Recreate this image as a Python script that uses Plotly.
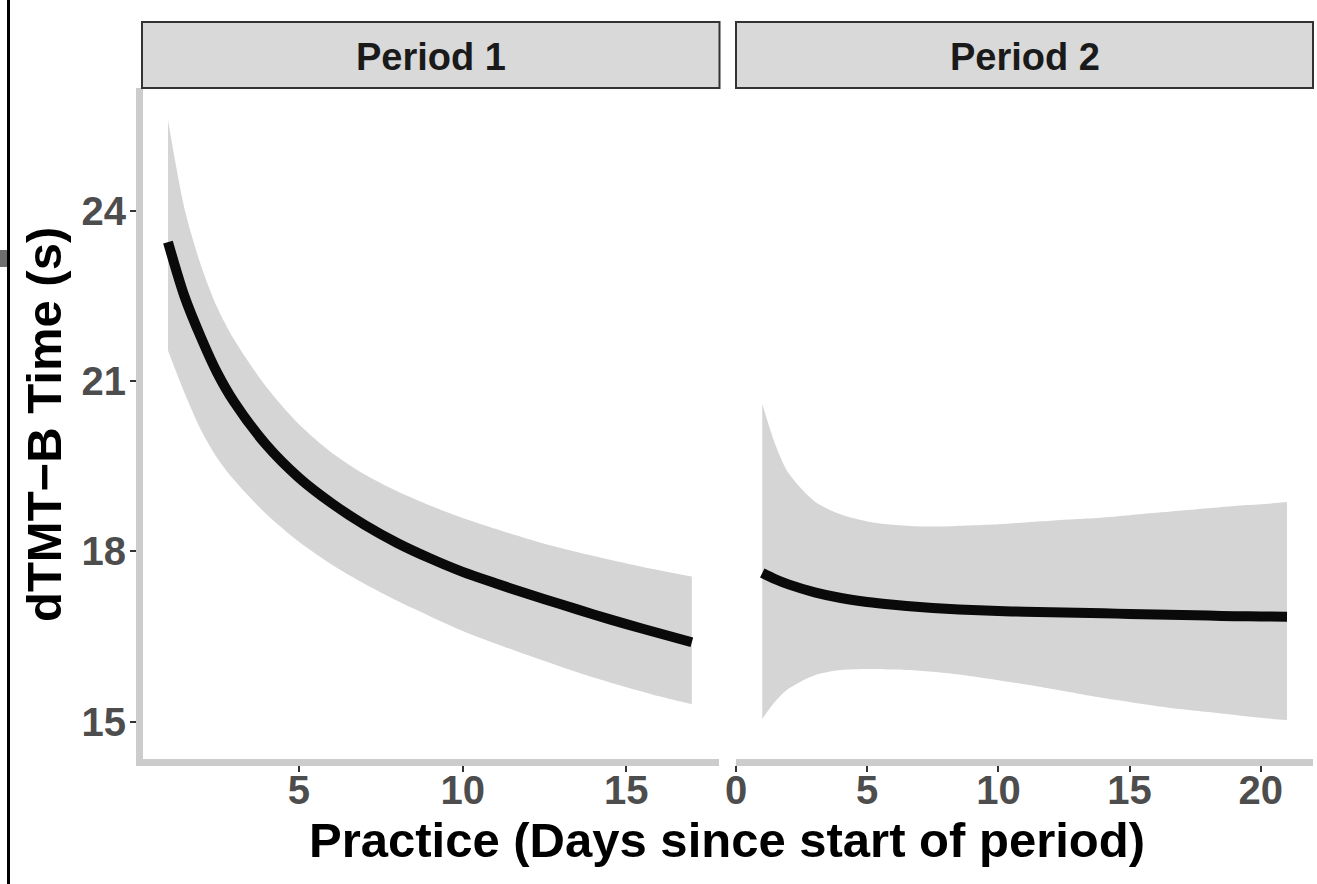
import plotly.graph_objects as go

# ---------------- data ----------------
p1_days = [1, 1.5, 2, 2.5, 3, 4, 5, 6, 7, 8, 9, 10, 11, 12, 13, 14, 15, 16, 17]
p1_fit = [23.45, 22.50, 21.78, 21.15, 20.65, 19.88, 19.30, 18.85, 18.47, 18.15,
          17.88, 17.64, 17.44, 17.25, 17.07, 16.89, 16.72, 16.56, 16.40]
p1_upper = [25.60, 24.05, 23.05, 22.30, 21.75, 20.90, 20.24, 19.74, 19.36, 19.06,
            18.81, 18.59, 18.40, 18.22, 18.06, 17.92, 17.79, 17.67, 17.56]
p1_lower = [21.54, 20.80, 20.15, 19.65, 19.27, 18.66, 18.17, 17.77, 17.43, 17.13,
            16.86, 16.60, 16.38, 16.17, 15.97, 15.78, 15.61, 15.45, 15.31]

p2_days = [1, 1.5, 2, 3, 4, 5, 6, 7, 8, 9, 10, 11, 12, 13, 14, 15, 16, 17, 18, 19, 20, 21]
p2_fit = [17.62, 17.51, 17.42, 17.28, 17.18, 17.11, 17.06, 17.02, 16.99, 16.97, 16.95,
          16.94, 16.93, 16.92, 16.91, 16.90, 16.89, 16.88, 16.87, 16.86, 16.855, 16.85]
p2_upper = [20.60, 19.88, 19.38, 18.88, 18.65, 18.53, 18.47, 18.44, 18.44, 18.46, 18.48,
            18.51, 18.54, 18.57, 18.60, 18.64, 18.68, 18.72, 18.76, 18.80, 18.83, 18.87]
p2_lower = [15.05, 15.36, 15.58, 15.82, 15.91, 15.93, 15.92, 15.90, 15.86, 15.80, 15.73,
            15.66, 15.58, 15.50, 15.42, 15.35, 15.28, 15.22, 15.17, 15.12, 15.07, 15.03]

panel_labels = ["Period 1", "Period 2"]
p1_xticks = [5, 10, 15]
p2_xticks = [0, 5, 10, 15, 20]
y_ticks = [15, 18, 21, 24]
x_title = "Practice (Days since start of period)"
y_title = "dTMT\u2212B Time (s)"

# ---------------- styling ----------------
W, H = 1317, 884
FONT = "Liberation Sans"
BAND = "#D5D5D5"
AXLINE = "#CCCCCC"
TICKCOL = "#333333"
TICKTXT = "#4D4D4D"


def fx(p):
    return p / W


def fy(p):
    return 1 - p / H


fig = go.Figure()

for days, fit, up, lo, xa, ya in [
    (p1_days, p1_fit, p1_upper, p1_lower, "x", "y"),
    (p2_days, p2_fit, p2_upper, p2_lower, "x2", "y2"),
]:
    fig.add_trace(go.Scatter(
        x=days, y=lo, mode="lines",
        line=dict(width=0, color=BAND, shape="spline", smoothing=0.8),
        hoverinfo="skip", showlegend=False, xaxis=xa, yaxis=ya))
    fig.add_trace(go.Scatter(
        x=days, y=up, mode="lines", fill="tonexty", fillcolor=BAND,
        line=dict(width=0, color=BAND, shape="spline", smoothing=0.8),
        hoverinfo="skip", showlegend=False, xaxis=xa, yaxis=ya))
    fig.add_trace(go.Scatter(
        x=days, y=fit, mode="lines",
        line=dict(width=10, color="#0A0A0A", shape="spline", smoothing=0.8),
        showlegend=False, xaxis=xa, yaxis=ya))

tickfont = dict(family=FONT, size=40, color=TICKTXT, weight="bold")
common_x = dict(showline=True, linecolor=AXLINE, linewidth=7, ticks="outside",
                ticklen=6, tickwidth=2, tickcolor=TICKCOL, tickfont=tickfont,
                ticklabelstandoff=-16,
                showgrid=False, zeroline=False, automargin=False)

ydom = [fy(758.5), fy(88)]
fig.update_layout(
    width=W, height=H,
    margin=dict(l=0, r=0, t=0, b=0),
    paper_bgcolor="white", plot_bgcolor="white",
    xaxis=dict(domain=[fx(143), fx(719)], range=[0.237, 17.83],
               tickvals=p1_xticks, anchor="y", **common_x),
    xaxis2=dict(domain=[fx(736), fx(1313)], range=[0, 21.99],
                tickvals=p2_xticks, anchor="y2", **common_x),
    yaxis=dict(domain=ydom, range=[14.353, 26.164], tickvals=y_ticks,
               anchor="x", showline=True, linecolor=AXLINE, linewidth=7,
               ticks="outside", ticklen=6, tickwidth=2, tickcolor=TICKCOL,
               tickfont=tickfont, ticklabelstandoff=-4,
               showgrid=False, zeroline=False, automargin=False),
    yaxis2=dict(domain=ydom, matches="y", anchor="x2", showticklabels=False,
                showline=False, ticks="", showgrid=False, zeroline=False),
)

shapes = []
annotations = []
for (x0, x1), lab in zip([(142, 719.5), (736, 1313)], panel_labels):
    shapes.append(dict(type="rect", xref="paper", yref="paper",
                       x0=fx(x0), x1=fx(x1), y0=fy(88), y1=fy(22),
                       fillcolor="#D9D9D9", line=dict(color="#333333", width=2),
                       layer="above"))
    annotations.append(dict(text=lab, xref="paper", yref="paper",
                            x=fx((x0 + x1) / 2), y=fy(57), xanchor="center",
                            yanchor="middle", showarrow=False,
                            font=dict(family=FONT, size=38, color="#1A1A1A",
                                      weight="bold")))

# cropping artefacts at the left edge of the reference image
shapes.append(dict(type="line", xref="paper", yref="paper", x0=fx(8.5), x1=fx(8.5),
                   y0=0, y1=1, line=dict(color="black", width=3)))
shapes.append(dict(type="rect", xref="paper", yref="paper", x0=0, x1=fx(7),
                   y0=fy(267), y1=fy(250), fillcolor="#6E6E6E", line=dict(width=0)))

annotations.append(dict(text=x_title, xref="paper", yref="paper",
                        x=fx(727), y=fy(840), xanchor="center", yanchor="middle",
                        showarrow=False,
                        font=dict(family=FONT, size=49, color="black", weight="bold")))
annotations.append(dict(text=y_title, xref="paper", yref="paper",
                        x=fx(44), y=fy(425), xanchor="center", yanchor="middle",
                        textangle=-90, showarrow=False,
                        font=dict(family=FONT, size=49, color="black", weight="bold")))

fig.update_layout(shapes=shapes, annotations=annotations)
fig.write_html("out.html", config={"displayModeBar": False},
               post_script="document.body.style.margin='0';document.body.style.padding='0';")
